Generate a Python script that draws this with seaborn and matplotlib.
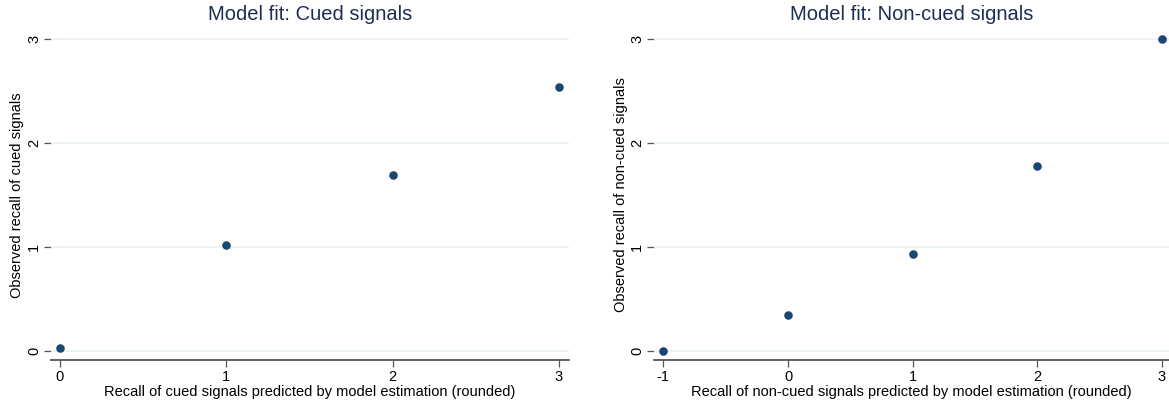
import matplotlib
matplotlib.use("Agg")
import matplotlib.pyplot as plt
import seaborn as sns
import pandas as pd

# --- data ---
cued_pred = [0, 1, 2, 3]
cued_obs = [0.03, 1.02, 1.69, 2.54]

noncued_pred = [-1, 0, 1, 2, 3]
noncued_obs = [0.0, 0.35, 0.93, 1.775, 3.0]

titles = ["Model fit: Cued signals", "Model fit: Non-cued signals"]
xlabels = ["Recall of cued signals predicted by model estimation (rounded)",
           "Recall of non-cued signals predicted by model estimation (rounded)"]
ylabels = ["Observed recall of cued signals", "Observed recall of non-cued signals"]
xticks = [[0, 1, 2, 3], [-1, 0, 1, 2, 3]]
yticks = [0, 1, 2, 3]

sns.set_theme(style="white")
plt.rcParams['font.family'] = ['Liberation Sans', 'DejaVu Sans']
plt.rcParams['text.color'] = 'black'
plt.rcParams['axes.labelcolor'] = 'black'
plt.rcParams['xtick.color'] = 'black'
plt.rcParams['ytick.color'] = 'black'

MARKER = "#1a476f"
TITLE_C = "#1e2d53"
GRID_C = "#eaf2f3"

fig = plt.figure(figsize=(11.69, 4.05), dpi=100)
fig.patch.set_facecolor("white")

ax1 = fig.add_axes([51 / 1169, 45 / 405, 518 / 1169, 330 / 405])
ax2 = fig.add_axes([654 / 1169, 45 / 405, 515 / 1169, 330 / 405])

df1 = pd.DataFrame({"pred": cued_pred, "obs": cued_obs})
df2 = pd.DataFrame({"pred": noncued_pred, "obs": noncued_obs})

panels = [(ax1, df1, (-0.054, 3.06)), (ax2, df2, (-1.075, 3.056))]

for i, (ax, df, xl) in enumerate(panels):
    sns.scatterplot(data=df, x="pred", y="obs", ax=ax, color=MARKER,
                    s=38, edgecolor=MARKER, linewidth=0, zorder=3)
    ax.set_xlim(*xl)
    ax.set_ylim(-0.087, 3.087)
    ax.set_xticks(xticks[i])
    ax.set_yticks(yticks)
    ax.set_xticklabels([str(t) for t in xticks[i]], fontsize=10.5)
    ax.set_yticklabels([str(t) for t in yticks], fontsize=10.5, rotation=90, va="center")
    for y in yticks:
        ax.axhline(y, color=GRID_C, linewidth=1.3, zorder=1)
    for side in ["top", "right", "left"]:
        ax.spines[side].set_visible(False)
    ax.spines["bottom"].set_color("#555555")
    ax.spines["bottom"].set_linewidth(1.3)
    ax.tick_params(axis="both", which="major", direction="out", length=5,
                   width=0.9, color="#555555", labelcolor="black", pad=2,
                   bottom=True, left=True)
    ax.set_title(titles[i], fontsize=14.5, color=TITLE_C, pad=7)
    ax.set_xlabel(xlabels[i], fontsize=10.5, labelpad=1, color="black")
    ax.set_ylabel(ylabels[i], fontsize=10.5, labelpad=2, color="black")
    ax.set_facecolor("white")

fig.savefig("out.png", dpi=100, facecolor="white")
